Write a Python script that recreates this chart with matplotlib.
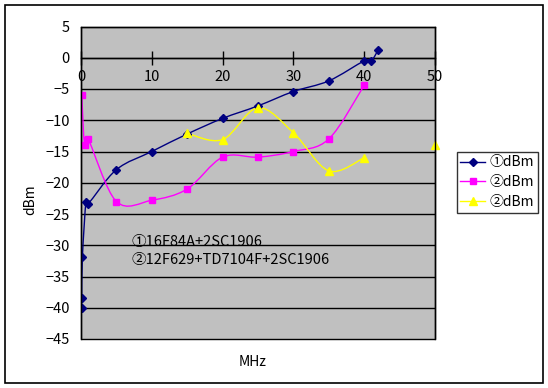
import numpy as np
import matplotlib
matplotlib.use("Agg")
import matplotlib.pyplot as plt
from matplotlib.path import Path
from matplotlib.patches import PathPatch, Rectangle

plt.rcParams['font.family'] = ['Noto Sans CJK JP', 'DejaVu Sans']

# Data
mhz_1 = [0.1, 0.1, 0.2, 0.7, 1.0, 5, 10, 15, 20, 25, 30, 35, 40, 41, 42]
dbm_1 = [-40, -38.5, -31.8, -23.0, -23.4, -17.9, -15.0, -12.2, -9.7, -7.7, -5.4, -3.7, -0.5, -0.5, 1.3]

mhz_2 = [0.1, 0.5, 1.0, 5, 10, 15, 20, 25, 30, 35, 40]
dbm_2 = [-5.9, -14.0, -13.0, -23.0, -22.8, -21.0, -15.9, -15.9, -15.0, -13.0, -4.4]

mhz_3 = [15, 20, 25, 30, 35, 40]
dbm_3 = [-12.1, -13.1, -8.0, -12.0, -18.1, -16.0]
mhz_3b = [50]
dbm_3b = [-14.0]

labels = ['①dBm', '②dBm', '②dBm']
colors = ['#000080', '#FF00FF', '#FFFF00']
note = '①16F84A+2SC1906\n②12F629+TD7104F+2SC1906'


# Smoothed line like the spreadsheet (Catmull-Rom Bezier)
def smooth_path(x, y):
    p = np.column_stack([x, y]).astype(float)
    n = len(p)
    verts = [p[0]]
    codes = [Path.MOVETO]
    for i in range(n - 1):
        p0 = p[i - 1] if i > 0 else p[i]
        p3 = p[i + 2] if i + 2 < n else p[i + 1]
        c1 = p[i] + (p[i + 1] - p0) / 6.0
        c2 = p[i + 1] - (p3 - p[i]) / 6.0
        verts += [c1, c2, p[i + 1]]
        codes += [Path.CURVE4] * 3
    return Path(verts, codes)


fig = plt.figure(figsize=(5.48, 3.88), dpi=100)
fig.patch.set_facecolor('white')
fig.add_artist(Rectangle((5 / 548, 5 / 388), 538 / 548, 378 / 388, transform=fig.transFigure,
                         fill=False, edgecolor='black', linewidth=1.2))

ax = fig.add_axes([81 / 548, 1 - 339 / 388, 354 / 548, 312.5 / 388])
ax.set_facecolor('#C0C0C0')
ax.set_xlim(0, 50)
ax.set_ylim(-45, 5)

for v in range(-40, 5, 5):
    ax.axhline(v, color='black', linewidth=1.0, zorder=1)

for xs, ys, c in [(mhz_1, dbm_1, colors[0]), (mhz_2, dbm_2, colors[1]), (mhz_3, dbm_3, colors[2])]:
    ax.add_patch(PathPatch(smooth_path(xs, ys), fill=False, edgecolor=c, linewidth=1.0, zorder=3))

ms1, ms2, ms3 = 4.2, 4.5, 5.5
ax.plot(mhz_1, dbm_1, linestyle='none', marker='D', markersize=ms1, color=colors[0], zorder=5)
ax.plot(mhz_2, dbm_2, linestyle='none', marker='s', markersize=ms2, color=colors[1], zorder=4)
ax.plot(mhz_3, dbm_3, linestyle='none', marker='^', markersize=ms3, color=colors[2], zorder=6)
ax.plot(mhz_3b, dbm_3b, linestyle='none', marker='^', markersize=ms3, color=colors[2], zorder=6, clip_on=False)

# legend proxies
h1, = ax.plot([], [], color=colors[0], marker='D', markersize=ms1, linewidth=1)
h2, = ax.plot([], [], color=colors[1], marker='s', markersize=ms2, linewidth=1)
h3, = ax.plot([], [], color=colors[2], marker='^', markersize=ms3, linewidth=1)
leg = fig.legend([h1, h2, h3], labels, loc='upper left', bbox_to_anchor=(457 / 548, 1 - 152 / 388),
                 frameon=True, fancybox=False, edgecolor='black', fontsize=10,
                 handlelength=1.8, handletextpad=0.3, borderpad=0.25, labelspacing=0.42,
                 borderaxespad=0)
leg.get_frame().set_linewidth(1.0)

ax.text(7.2, -30.9, note, fontsize=10.5, va='center', ha='left', linespacing=1.35, zorder=7)

# spines: x axis drawn along y=0, outer border kept
for s in ['top', 'right', 'left']:
    ax.spines[s].set_linewidth(1.0)
ax.spines['bottom'].set_position(('data', 0))
ax.spines['bottom'].set_linewidth(1.0)
ax.add_patch(Rectangle((0, 0), 1, 1, transform=ax.transAxes, fill=False,
                       edgecolor='black', linewidth=1.0, zorder=8, clip_on=False))

ax.set_xticks(range(0, 51, 10))
ax.set_yticks(range(-45, 6, 5))
ax.tick_params(axis='x', direction='inout', length=10, width=1, pad=4, labelsize=10.5)
ax.tick_params(axis='y', length=0, pad=8, labelsize=10.5)
ax.set_yticklabels([str(v).replace('-', '−') for v in range(-45, 6, 5)])

fig.text(30 / 548, 1 - 200 / 388, 'dBm', rotation=90, ha='center', va='center', fontsize=10)
fig.text(253 / 548, 1 - 362 / 388, 'MHz', ha='center', va='center', fontsize=10)

fig.savefig('out.png', dpi=100)
